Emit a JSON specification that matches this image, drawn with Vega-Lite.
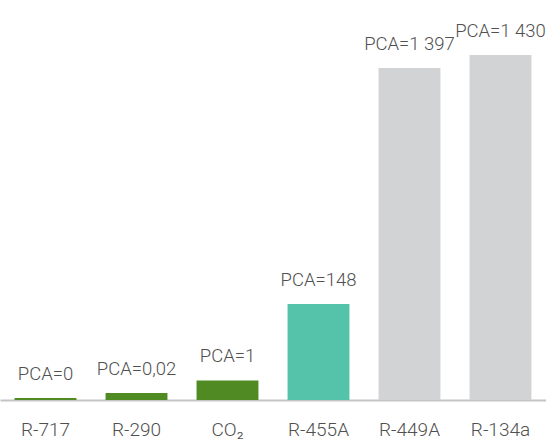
{
  "$schema": "https://vega.github.io/schema/vega-lite/v6.json",
  "width": 546,
  "height": 400,
  "padding": {"top": 0, "left": 0, "right": 0, "bottom": 41},
  "autosize": "none",
  "background": "white",
  "config": {
    "view": {"stroke": null},
    "font": "Roboto"
  },
  "data": {
    "values": [
      {"fluid": "R-717", "label": "PCA=0", "h": 8, "group": "natural"},
      {"fluid": "R-290", "label": "PCA=0,02", "h": 29, "group": "natural"},
      {"fluid": "CO₂", "label": "PCA=1", "h": 81, "group": "natural"},
      {"fluid": "R-455A", "label": "PCA=148", "h": 398, "group": "low"},
      {"fluid": "R-449A", "label": "PCA=1 397", "h": 1376, "group": "high"},
      {"fluid": "R-134a", "label": "PCA=1 430", "h": 1430, "group": "high"}
    ]
  },
  "encoding": {
    "x": {
      "field": "fluid",
      "type": "nominal",
      "sort": null,
      "scale": {"paddingInner": 0.32, "paddingOuter": 0.16},
      "axis": {
        "title": null,
        "labelAngle": 0,
        "ticks": false,
        "domainColor": "#c4c4c4",
        "domainWidth": 2,
        "labelFont": "Roboto",
        "labelFontWeight": 300,
        "labelFontSize": 19,
        "labelColor": "#505050",
        "labelPadding": 20
      }
    },
    "y": {
      "field": "h",
      "type": "quantitative",
      "scale": {"domain": [0, 1658]},
      "axis": null
    }
  },
  "layer": [
    {
      "mark": {"type": "bar"},
      "encoding": {
        "color": {
          "field": "group",
          "type": "nominal",
          "scale": {"domain": ["natural", "low", "high"], "range": ["#4f8a23", "#54c3a9", "#d1d3d4"]},
          "legend": null
        }
      }
    },
    {
      "mark": {"type": "text", "baseline": "middle", "dy": -24, "font": "Roboto", "fontWeight": 300, "fontSize": 18.5, "color": "#505050"},
      "encoding": {"text": {"field": "label"}}
    }
  ]
}
